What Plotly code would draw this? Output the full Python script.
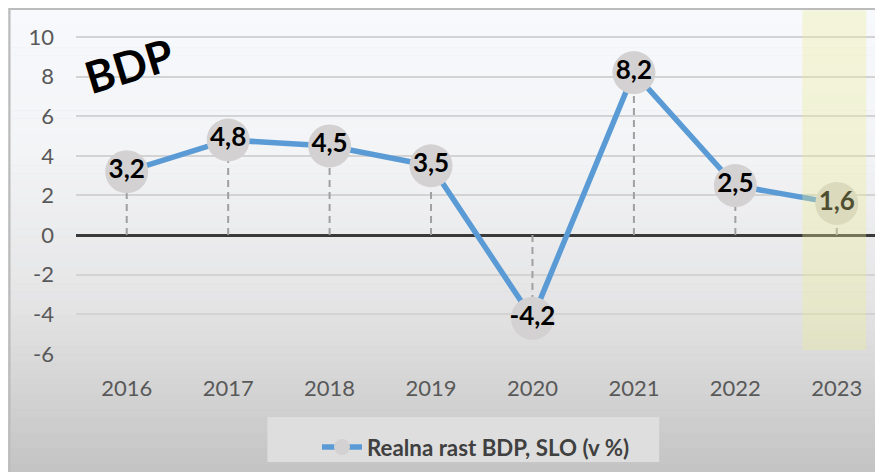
import plotly.graph_objects as go

years = [2016, 2017, 2018, 2019, 2020, 2021, 2022, 2023]
growth = [3.2, 4.8, 4.5, 3.5, -4.2, 8.2, 2.5, 1.6]
labels = ["3,2", "4,8", "4,5", "3,5", "-4,2", "8,2", "2,5", "1,6"]
y_ticks = [-6, -4, -2, 0, 2, 4, 6, 8, 10]
series_name = "Realna rast BDP, SLO (v %)"
title_text = "BDP"
highlight_year = 2023

W, H = 883, 472
OFF = 8  # page body margin shifts the figure by 8px
ML, MR, MT, MB = 75.5 - OFF, 0, 9 - OFF, H - (354 - OFF)
PW, PH = W - ML - MR, H - MT - MB
x_end = 2015.5 + PW / 101.5


def px_x(px):
    return (px - OFF - ML) / PW


def px_y(py):
    return (H - MB - (py - OFF)) / PH


fig = go.Figure()

# drop lines from points to zero
dx, dy = [], []
for x, v in zip(years, growth):
    dx += [x, x, None]
    dy += [0, v, None]
fig.add_trace(go.Scatter(x=dx, y=dy, mode="lines", showlegend=False, hoverinfo="skip",
                         line=dict(color="#a0a0a0", width=2, dash="7px,5px")))

fig.add_trace(go.Scatter(x=years, y=growth, mode="lines+markers", name=series_name,
                         line=dict(color="#5b9bd5", width=5.5),
                         marker=dict(size=43, color="#d3d1d1", line=dict(width=0))))

fig.add_trace(go.Scatter(x=years, y=growth, mode="text", text=labels, showlegend=False,
                         textposition="middle center",
                         textfont=dict(family="Lato", size=26, color="black", weight="bold")))

shapes = []
# gradient background
stops = [(8, (247, 249, 252)), (150, (243, 244, 246)), (300, (229, 229, 230)), (480, (194, 194, 194))]
n = 60
for i in range(n):
    y0 = 8 + (H + 8 - 8) * i / n
    y1 = 8 + (H + 8 - 8) * (i + 1) / n
    ym = (y0 + y1) / 2
    for (a, ca), (b, cb) in zip(stops[:-1], stops[1:]):
        if a <= ym <= b:
            t = (ym - a) / (b - a)
            c = tuple(round(ca[k] + (cb[k] - ca[k]) * t) for k in range(3))
            break
    shapes.append(dict(type="rect", xref="paper", yref="paper", layer="below",
                       x0=px_x(8), x1=px_x(W + 20), y0=px_y(y1 + 0.5), y1=px_y(y0),
                       fillcolor="rgb(%d,%d,%d)" % c, line=dict(width=0)))
# outer border
shapes.append(dict(type="rect", xref="paper", yref="paper", layer="below",
                   x0=px_x(9), x1=px_x(W + 30), y0=px_y(H + 30), y1=px_y(9),
                   fillcolor="rgba(0,0,0,0)", line=dict(color="#bcbcbc", width=2)))
# legend box
shapes.append(dict(type="rect", xref="paper", yref="paper", layer="below",
                   x0=px_x(267), x1=px_x(659), y0=px_y(462), y1=px_y(417),
                   fillcolor="#dedede", line=dict(width=0)))
# highlight band for forecast year
shapes.append(dict(type="rect", xref="x", yref="y", layer="above",
                   x0=highlight_year - 0.34, x1=highlight_year + 0.29, y0=-5.8, y1=11.35,
                   fillcolor="rgba(238,238,150,0.33)", line=dict(width=0)))

fig.update_layout(
    width=W, height=H,
    margin=dict(l=ML, r=MR, t=MT, b=MB, pad=0, autoexpand=False),
    paper_bgcolor="#bfbfbf", plot_bgcolor="rgba(0,0,0,0)",
    shapes=shapes,
    font=dict(family="Lato", color="#595959"),
    showlegend=True,
    legend=dict(xref="container", yref="container", x=(317 - OFF) / W, y=1 - (426 - OFF) / H,
                xanchor="left", yanchor="top", bgcolor="rgba(0,0,0,0)",
                font=dict(family="Lato", size=22.3, color="#404040", weight="bold"),
                itemwidth=40),
    xaxis=dict(range=[2015.5, x_end], tickvals=years, ticktext=[str(y) for y in years],
               showgrid=False, zeroline=False, showline=False, ticks="", tickangle=0,
               automargin=False,
               tickfont=dict(size=22, color="#595959"), ticklabelstandoff=19),
    yaxis=dict(range=[-6, 11.41], tickvals=y_ticks, ticktext=[str(v) for v in y_ticks],
               showgrid=True, gridcolor="#d3d3d3", gridwidth=1.5,
               zeroline=True, zerolinecolor="#3a3a3a", zerolinewidth=3,
               automargin=False,
               showline=False, ticks="", tickfont=dict(size=22, color="#595959"),
               ticklabelstandoff=21),
    annotations=[dict(text="<b>%s</b>" % title_text, xref="paper", yref="paper",
                      x=px_x(129), y=px_y(65), xanchor="center", yanchor="middle",
                      showarrow=False, textangle=-17,
                      font=dict(family="Lato", size=44, color="black"))],
)

fig.write_html("out.html")
